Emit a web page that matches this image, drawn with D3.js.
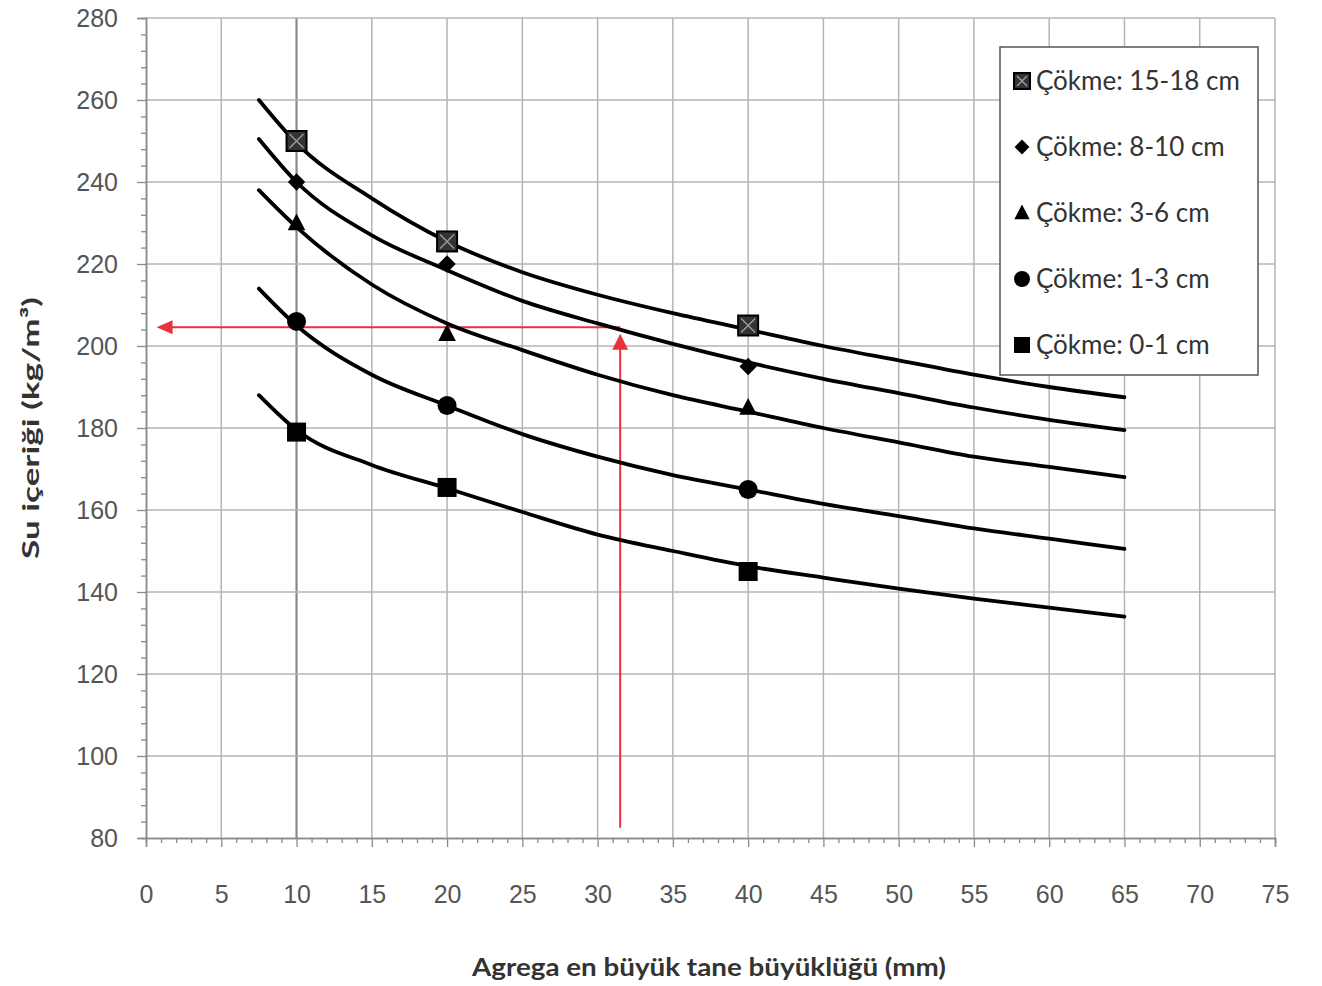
<!DOCTYPE html>
<html><head><meta charset="utf-8">
<script src="https://cdn.jsdelivr.net/npm/d3@7"></script>
<style>
html,body{margin:0;padding:0;background:#fff;}
svg{display:block;font-family:Lato, "Open Sans", sans-serif;}
</style></head>
<body>
<script>
// ---- data ----
const seriesNames = ["Çökme: 15-18 cm","Çökme: 8-10 cm","Çökme: 3-6 cm","Çökme: 1-3 cm","Çökme: 0-1 cm"];
const markerTypes = ["squareX","diamond","triangle","circle","square"];
const curveX = [7.5,10,15,20,25,30,35,40,45,50,55,60,65];
const curveA = [260,249.5,236,225.5,218,212.5,208,204,200,196.5,193,190,187.5];
const curveB = [250.5,240,227,218.5,211,205.5,200.5,196,192,188.5,185,182,179.5];
const curveC = [238,229,215,205.5,199,193,188,184,180,176.5,173,170.5,168];
const curveD = [214,205,193,185.5,178.5,173,168.5,165,161.5,158.5,155.5,153,150.5];
const curveE = [188,179.5,171,165.3,159.5,154,150,146.3,143.5,140.8,138.4,136.2,134];
const pointX = [10,20,40];
const pointsA = [250,225.5,205];
const pointsB = [240,220,195];
const pointsC = [230,203,185];
const pointsD = [206,185.5,165];
const pointsE = [179,165.5,145];
const xTicks = [0,5,10,15,20,25,30,35,40,45,50,55,60,65,70,75];
const yTicks = [80,100,120,140,160,180,200,220,240,260,280];
const arrowX = 31.5, arrowY = 204.6, arrowEndX = 0.7, arrowStartY = 82.5, arrowTipY = 203;
const xTitle = "Agrega en büyük tane büyüklüğü (mm)";
const yTitle = "Su içeriği (kg/m³)";

const curves = [curveA,curveB,curveC,curveD,curveE];
const points = [pointsA,pointsB,pointsC,pointsD,pointsE];

const W = 1322, H = 986;
const m = {left:146, top:18, right:1275, bottom:838};
const svg = d3.select("body").append("svg").attr("width",W).attr("height",H);
const x = d3.scaleLinear().domain([0,75]).range([m.left,m.right]);
const y = d3.scaleLinear().domain([80,280]).range([m.bottom,m.top]);

// grid
const g = svg.append("g");
g.selectAll(".vg").data(xTicks.filter(d=>d>0)).enter().append("line")
  .attr("x1",d=>x(d)).attr("x2",d=>x(d)).attr("y1",y(280)).attr("y2",y(80))
  .attr("stroke",d=>d===10?"#8a8a8a":"#b4b4b4").attr("stroke-width",d=>d===10?2.2:1.5);
g.selectAll(".hg").data(yTicks.filter(d=>d>80)).enter().append("line")
  .attr("x1",x(0)).attr("x2",x(75)).attr("y1",d=>y(d)).attr("y2",d=>y(d))
  .attr("stroke","#b4b4b4").attr("stroke-width",1.5);

// axes
const xAxis = d3.axisBottom(x).tickValues(xTicks).tickSize(9).tickPadding(38);
const xMinor = d3.axisBottom(x).tickValues(d3.range(0,76,1).filter(d=>d%5)).tickSize(5).tickFormat("");
const yAxis = d3.axisLeft(y).tickValues(yTicks).tickSize(9).tickPadding(19);
const yMinor = d3.axisLeft(y).tickValues(d3.range(80,281,4).filter(d=>d%20)).tickSize(5).tickFormat("");
function styleAxis(sel){
  sel.select(".domain").attr("stroke","#8a8a8a").attr("stroke-width",1.5);
  sel.selectAll(".tick line").attr("stroke","#8a8a8a").attr("stroke-width",1.3);
  sel.selectAll("text").attr("fill","#555").attr("font-size",25);
}
svg.append("g").attr("transform",`translate(0,${m.bottom})`).call(xMinor).call(styleAxis);
svg.append("g").attr("transform",`translate(0,${m.bottom})`).call(xAxis).call(styleAxis);
svg.append("g").attr("transform",`translate(${m.left},0)`).call(yMinor).call(styleAxis);
svg.append("g").attr("transform",`translate(${m.left},0)`).call(yAxis).call(styleAxis);

// titles
svg.append("text").attr("x",709).attr("y",976).attr("text-anchor","middle")
  .attr("font-size",25).attr("font-weight","bold").attr("fill","#333")
  .attr("textLength",474).attr("lengthAdjust","spacingAndGlyphs").text(xTitle);
svg.append("text").attr("transform","translate(39,428) rotate(-90)").attr("text-anchor","middle")
  .attr("font-size",23).attr("font-weight","bold").attr("fill","#333")
  .attr("textLength",262).attr("lengthAdjust","spacingAndGlyphs").text(yTitle);

// red arrows
const red = "#e8333c";
svg.append("line").attr("x1",x(arrowX)).attr("x2",x(arrowEndX)+14).attr("y1",y(arrowY)).attr("y2",y(arrowY))
  .attr("stroke",red).attr("stroke-width",2);
svg.append("path").attr("d",`M${x(arrowEndX)},${y(arrowY)} l16,-7 l0,14 z`).attr("fill",red);
svg.append("line").attr("x1",x(arrowX)).attr("x2",x(arrowX)).attr("y1",y(arrowStartY)).attr("y2",y(arrowTipY)+14)
  .attr("stroke",red).attr("stroke-width",2);
svg.append("path").attr("d",`M${x(arrowX)},${y(arrowTipY)} l-8,16 l16,0 z`).attr("fill",red);

// curves
const line = d3.line().x(d=>x(d[0])).y(d=>y(d[1])).curve(d3.curveMonotoneX);
curves.forEach(c=>{
  svg.append("path").attr("d",line(curveX.map((v,i)=>[v,c[i]])))
    .attr("fill","none").attr("stroke","#000").attr("stroke-width",3.8).attr("stroke-linecap","round");
});

// markers
function marker(sel,type,cx,cy,s){
  if(type==="squareX"){
    sel.append("rect").attr("x",cx-s/2).attr("y",cy-s/2).attr("width",s).attr("height",s)
      .attr("fill","#333").attr("stroke","#000").attr("stroke-width",2);
    sel.append("path").attr("d",`M${cx-s/2+3},${cy-s/2+3}L${cx+s/2-3},${cy+s/2-3}M${cx+s/2-3},${cy-s/2+3}L${cx-s/2+3},${cy+s/2-3}`)
      .attr("stroke","#999").attr("stroke-width",1.5);
  } else if(type==="diamond"){
    const h = s*0.62;
    sel.append("path").attr("d",`M${cx},${cy-h}L${cx+h},${cy}L${cx},${cy+h}L${cx-h},${cy}Z`).attr("fill","#000");
  } else if(type==="triangle"){
    sel.append("path").attr("d",`M${cx},${cy-s*0.6}L${cx+s*0.55},${cy+s*0.45}L${cx-s*0.55},${cy+s*0.45}Z`).attr("fill","#000");
  } else if(type==="circle"){
    sel.append("circle").attr("cx",cx).attr("cy",cy).attr("r",s/2).attr("fill","#000");
  } else {
    sel.append("rect").attr("x",cx-s/2).attr("y",cy-s/2).attr("width",s).attr("height",s).attr("fill","#000");
  }
}
const sizes = [20,14,16,19,19];
points.forEach((p,k)=>{
  const gg = svg.append("g");
  p.forEach((v,i)=>marker(gg,markerTypes[k],x(pointX[i]),y(v),sizes[k]));
});

// legend
const lg = svg.append("g");
lg.append("rect").attr("x",1000).attr("y",47).attr("width",258).attr("height",328)
  .attr("fill","#fff").attr("stroke","#555").attr("stroke-width",1.5);
const lsizes = [16,12,14,16,16];
seriesNames.forEach((n,i)=>{
  const cy = 81 + i*66;
  marker(lg,markerTypes[i],1022,cy,lsizes[i]);
  lg.append("text").attr("x",1036).attr("y",cy+9).attr("font-size",26).attr("fill","#333").text(n);
});
</script>
</body></html>
